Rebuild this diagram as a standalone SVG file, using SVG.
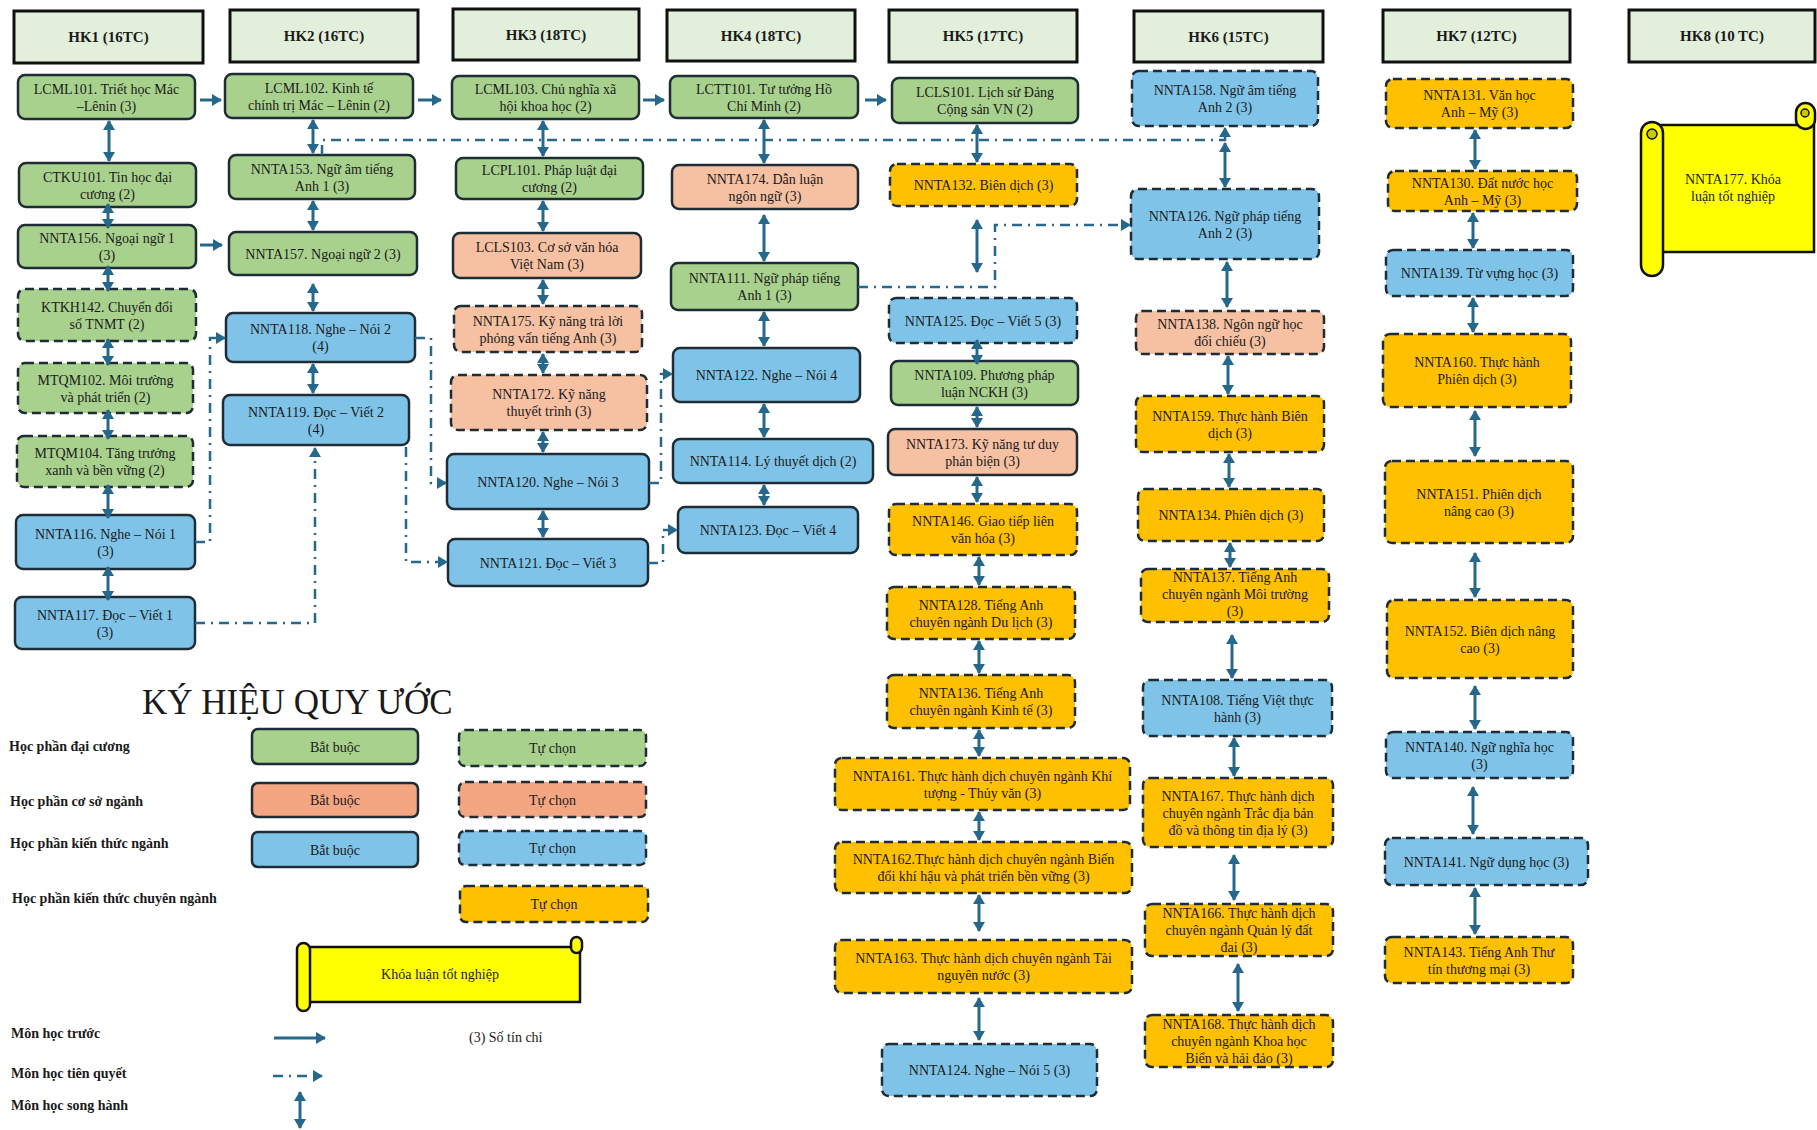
<svg xmlns="http://www.w3.org/2000/svg" width="1817" height="1130" viewBox="0 0 1817 1130">
<defs>
<style>
.n{stroke:#1d2c35;stroke-width:2.5}
.d{stroke-dasharray:9 5}
.hd{fill:#e2efda;stroke:#111;stroke-width:3}
.g{fill:#a9d18e}.s{fill:#f6c0a2}.sl{fill:#f4a582}.b{fill:#7fc4e8}.o{fill:#ffc000}
text{font-family:"Liberation Serif","Times New Roman",serif;fill:#1a1a1a}
.t{font-size:14px;text-anchor:middle}
.h{font-size:15px;font-weight:bold;text-anchor:middle}
.lg{font-size:14px;font-weight:bold}
.c{fill:none;stroke:#25688c;stroke-width:3}
.dd{stroke-width:2.5;stroke-dasharray:10 6 2 6}
.bi{marker-start:url(#ah);marker-end:url(#ah)}
.ar{marker-end:url(#ah)}
.ad{marker-end:url(#ad)}
.scr{fill:#ffff00;stroke:#111;stroke-width:2.5}
</style>
<marker id="ah" viewBox="0 0 10 12" refX="9" refY="6" markerWidth="10" markerHeight="12" markerUnits="userSpaceOnUse" orient="auto-start-reverse"><path d="M0,0L10,6L0,12z" fill="#25688c"/></marker>
<marker id="ad" viewBox="0 0 10 12" refX="9" refY="6" markerWidth="11" markerHeight="12" markerUnits="userSpaceOnUse" orient="auto"><path d="M0,0L10,6L0,12z" fill="#25688c"/></marker>
</defs>
<rect width="1817" height="1130" fill="#fff"/>

<!-- headers -->
<g id="HK1"><rect class="hd" x="14" y="11" width="189" height="52"/><text class="h" x="108.5" y="42">HK1 (16TC)</text></g>
<g id="HK2"><rect class="hd" x="230" y="10" width="188" height="52"/><text class="h" x="324" y="41">HK2 (16TC)</text></g>
<g id="HK3"><rect class="hd" x="453" y="9" width="186" height="51"/><text class="h" x="546" y="40">HK3 (18TC)</text></g>
<g id="HK4"><rect class="hd" x="667" y="10" width="188" height="51"/><text class="h" x="761" y="41">HK4 (18TC)</text></g>
<g id="HK5"><rect class="hd" x="889" y="10" width="188" height="52"/><text class="h" x="983" y="41">HK5 (17TC)</text></g>
<g id="HK6"><rect class="hd" x="1134" y="11" width="189" height="51"/><text class="h" x="1228.5" y="42">HK6 (15TC)</text></g>
<g id="HK7"><rect class="hd" x="1383" y="10" width="187" height="52"/><text class="h" x="1476.5" y="41">HK7 (12TC)</text></g>
<g id="HK8"><rect class="hd" x="1629" y="10" width="186" height="52"/><text class="h" x="1722" y="41">HK8 (10 TC)</text></g>

<!-- HK1 -->
<g id="LCML101"><rect class="n g" x="18" y="75" width="177" height="44" rx="7"/><text class="t" x="106.5" y="93.5">LCML101. Triết học Mác</text><text class="t" x="106.5" y="110.5">–Lênin (3)</text></g>
<g id="CTKU101"><rect class="n g" x="19" y="163" width="177" height="44" rx="7"/><text class="t" x="107.5" y="181.5">CTKU101. Tin học đại</text><text class="t" x="107.5" y="198.5">cương (2)</text></g>
<g id="NNTA156"><rect class="n g" x="18" y="225" width="178" height="43" rx="7"/><text class="t" x="107" y="243">NNTA156. Ngoại ngữ 1</text><text class="t" x="107" y="260">(3)</text></g>
<g id="KTKH142"><rect class="n d g" x="18" y="289" width="178" height="52" rx="7"/><text class="t" x="107" y="311.5">KTKH142. Chuyển đổi</text><text class="t" x="107" y="328.5">số TNMT (2)</text></g>
<g id="MTQM102"><rect class="n d g" x="18" y="363" width="175" height="50" rx="7"/><text class="t" x="105.5" y="384.5">MTQM102. Môi trường</text><text class="t" x="105.5" y="401.5">và phát triển (2)</text></g>
<g id="MTQM104"><rect class="n d g" x="17" y="436" width="176" height="51" rx="7"/><text class="t" x="105" y="458">MTQM104. Tăng trưởng</text><text class="t" x="105" y="475">xanh và bền vững (2)</text></g>
<g id="NNTA116"><rect class="n b" x="16" y="515" width="179" height="54" rx="7"/><text class="t" x="105.5" y="538.5">NNTA116. Nghe – Nói 1</text><text class="t" x="105.5" y="555.5">(3)</text></g>
<g id="NNTA117"><rect class="n b" x="15" y="597" width="180" height="52" rx="7"/><text class="t" x="105" y="619.5">NNTA117. Đọc – Viết 1</text><text class="t" x="105" y="636.5">(3)</text></g>

<!-- HK2 -->
<g id="LCML102"><rect class="n g" x="225" y="74" width="188" height="44" rx="7"/><text class="t" x="319" y="92.5">LCML102. Kinh tế</text><text class="t" x="319" y="109.5">chính trị Mác – Lênin (2)</text></g>
<g id="NNTA153"><rect class="n g" x="229" y="155" width="186" height="44" rx="7"/><text class="t" x="322" y="173.5">NNTA153. Ngữ âm tiếng</text><text class="t" x="322" y="190.5">Anh 1 (3)</text></g>
<g id="NNTA157"><rect class="n g" x="229" y="232" width="188" height="43" rx="7"/><text class="t" x="323" y="258.5">NNTA157. Ngoại ngữ 2 (3)</text></g>
<g id="NNTA118"><rect class="n b" x="226" y="313" width="189" height="49" rx="7"/><text class="t" x="320.5" y="334">NNTA118. Nghe – Nói 2</text><text class="t" x="320.5" y="351">(4)</text></g>
<g id="NNTA119"><rect class="n b" x="223" y="395" width="186" height="50" rx="7"/><text class="t" x="316" y="416.5">NNTA119. Đọc – Viết 2</text><text class="t" x="316" y="433.5">(4)</text></g>

<!-- HK3 -->
<g id="LCML103"><rect class="n g" x="452" y="76" width="187" height="43" rx="7"/><text class="t" x="545.5" y="94">LCML103. Chủ nghĩa xã</text><text class="t" x="545.5" y="111">hội khoa học (2)</text></g>
<g id="LCPL101"><rect class="n g" x="456" y="158" width="187" height="41" rx="7"/><text class="t" x="549.5" y="175">LCPL101. Pháp luật đại</text><text class="t" x="549.5" y="192">cương (2)</text></g>
<g id="LCLS103"><rect class="n s" x="453" y="233" width="188" height="45" rx="7"/><text class="t" x="547" y="252">LCLS103. Cơ sở văn hóa</text><text class="t" x="547" y="269">Việt Nam (3)</text></g>
<g id="NNTA175"><rect class="n d s" x="454" y="306" width="188" height="46" rx="7"/><text class="t" x="548" y="325.5">NNTA175. Kỹ năng trả lời</text><text class="t" x="548" y="342.5">phỏng vấn tiếng Anh (3)</text></g>
<g id="NNTA172"><rect class="n d s" x="451" y="375" width="196" height="55" rx="7"/><text class="t" x="549" y="399">NNTA172. Kỹ năng</text><text class="t" x="549" y="416">thuyết trình (3)</text></g>
<g id="NNTA120"><rect class="n b" x="447" y="454" width="202" height="55" rx="7"/><text class="t" x="548" y="486.5">NNTA120. Nghe – Nói 3</text></g>
<g id="NNTA121"><rect class="n b" x="448" y="539" width="200" height="47" rx="7"/><text class="t" x="548" y="567.5">NNTA121. Đọc – Viết 3</text></g>

<!-- HK4 -->
<g id="LCTT101"><rect class="n g" x="670" y="76" width="188" height="42" rx="7"/><text class="t" x="764" y="93.5">LCTT101. Tư tưởng Hồ</text><text class="t" x="764" y="110.5">Chí Minh (2)</text></g>
<g id="NNTA174"><rect class="n s" x="672" y="165" width="186" height="44" rx="7"/><text class="t" x="765" y="183.5">NNTA174. Dẫn luận</text><text class="t" x="765" y="200.5">ngôn ngữ (3)</text></g>
<g id="NNTA111"><rect class="n g" x="671" y="263" width="187" height="47" rx="7"/><text class="t" x="764.5" y="283">NNTA111. Ngữ pháp tiếng</text><text class="t" x="764.5" y="300">Anh 1 (3)</text></g>
<g id="NNTA122"><rect class="n b" x="673" y="348" width="187" height="54" rx="7"/><text class="t" x="766.5" y="380">NNTA122. Nghe – Nói 4</text></g>
<g id="NNTA114"><rect class="n b" x="673" y="439" width="200" height="44" rx="7"/><text class="t" x="773" y="466">NNTA114. Lý thuyết dịch (2)</text></g>
<g id="NNTA123"><rect class="n b" x="678" y="507" width="180" height="46" rx="7"/><text class="t" x="768" y="535">NNTA123. Đọc – Viết 4</text></g>

<!-- HK5 -->
<g id="LCLS101"><rect class="n g" x="892" y="78" width="186" height="45" rx="7"/><text class="t" x="985" y="97">LCLS101. Lịch sử Đảng</text><text class="t" x="985" y="114">Cộng sản VN (2)</text></g>
<g id="NNTA132"><rect class="n d o" x="890" y="164" width="187" height="42" rx="7"/><text class="t" x="983.5" y="190">NNTA132. Biên dịch (3)</text></g>
<g id="NNTA125"><rect class="n d b" x="889" y="298" width="188" height="45" rx="7"/><text class="t" x="983" y="325.5">NNTA125. Đọc – Viết 5 (3)</text></g>
<g id="NNTA109"><rect class="n g" x="891" y="361" width="187" height="44" rx="7"/><text class="t" x="984.5" y="379.5">NNTA109. Phương pháp</text><text class="t" x="984.5" y="396.5">luận NCKH (3)</text></g>
<g id="NNTA173"><rect class="n s" x="888" y="429" width="189" height="46" rx="7"/><text class="t" x="982.5" y="448.5">NNTA173. Kỹ năng tư duy</text><text class="t" x="982.5" y="465.5">phản biện (3)</text></g>
<g id="NNTA146"><rect class="n d o" x="889" y="504" width="188" height="51" rx="7"/><text class="t" x="983" y="526">NNTA146. Giao tiếp liên</text><text class="t" x="983" y="543">văn hóa (3)</text></g>
<g id="NNTA128"><rect class="n d o" x="887" y="587" width="188" height="52" rx="7"/><text class="t" x="981" y="609.5">NNTA128. Tiếng Anh</text><text class="t" x="981" y="626.5">chuyên ngành Du lịch (3)</text></g>
<g id="NNTA136"><rect class="n d o" x="887" y="675" width="188" height="53" rx="7"/><text class="t" x="981" y="698">NNTA136. Tiếng Anh</text><text class="t" x="981" y="715">chuyên ngành Kinh tế (3)</text></g>
<g id="NNTA161"><rect class="n d o" x="835" y="758" width="295" height="52" rx="7"/><text class="t" x="982.5" y="780.5">NNTA161. Thực hành dịch chuyên ngành Khí</text><text class="t" x="982.5" y="797.5">tượng - Thủy văn (3)</text></g>
<g id="NNTA162"><rect class="n d o" x="835" y="842" width="297" height="51" rx="7"/><text class="t" x="983.5" y="864">NNTA162.Thực hành dịch chuyên ngành Biến</text><text class="t" x="983.5" y="881">đổi khí hậu và phát triển bền vững (3)</text></g>
<g id="NNTA163"><rect class="n d o" x="835" y="940" width="297" height="53" rx="7"/><text class="t" x="983.5" y="963">NNTA163. Thực hành dịch chuyên ngành Tài</text><text class="t" x="983.5" y="980">nguyên nước (3)</text></g>
<g id="NNTA124"><rect class="n d b" x="882" y="1044" width="215" height="52" rx="7"/><text class="t" x="989.5" y="1075">NNTA124. Nghe – Nói 5 (3)</text></g>

<!-- HK6 -->
<g id="NNTA158"><rect class="n d b" x="1132" y="71" width="186" height="55" rx="7"/><text class="t" x="1225" y="95">NNTA158. Ngữ âm tiếng</text><text class="t" x="1225" y="112">Anh 2 (3)</text></g>
<g id="NNTA126"><rect class="n d b" x="1131" y="189" width="188" height="70" rx="7"/><text class="t" x="1225" y="220.5">NNTA126. Ngữ pháp tiếng</text><text class="t" x="1225" y="237.5">Anh 2 (3)</text></g>
<g id="NNTA138"><rect class="n d s" x="1136" y="311" width="188" height="43" rx="7"/><text class="t" x="1230" y="329">NNTA138. Ngôn ngữ học</text><text class="t" x="1230" y="346">đối chiếu (3)</text></g>
<g id="NNTA159"><rect class="n d o" x="1136" y="396" width="188" height="56" rx="7"/><text class="t" x="1230" y="420.5">NNTA159. Thực hành Biên</text><text class="t" x="1230" y="437.5">dịch (3)</text></g>
<g id="NNTA134"><rect class="n d o" x="1138" y="489" width="186" height="52" rx="7"/><text class="t" x="1231" y="520">NNTA134. Phiên dịch (3)</text></g>
<g id="NNTA137"><rect class="n d o" x="1141" y="569" width="188" height="53" rx="7"/><text class="t" x="1235" y="582">NNTA137. Tiếng Anh</text><text class="t" x="1235" y="599">chuyên ngành Môi trường</text><text class="t" x="1235" y="616">(3)</text></g>
<g id="NNTA108"><rect class="n d b" x="1143" y="680" width="189" height="56" rx="7"/><text class="t" x="1237.5" y="704.5">NNTA108. Tiếng Việt thực</text><text class="t" x="1237.5" y="721.5">hành (3)</text></g>
<g id="NNTA167"><rect class="n d o" x="1143" y="778" width="190" height="69" rx="7"/><text class="t" x="1238" y="800.5">NNTA167. Thực hành dịch</text><text class="t" x="1238" y="817.5">chuyên ngành Trắc địa bản</text><text class="t" x="1238" y="834.5">đồ và thông tin địa lý (3)</text></g>
<g id="NNTA166"><rect class="n d o" x="1145" y="904" width="188" height="52" rx="7"/><text class="t" x="1239" y="918">NNTA166. Thực hành dịch</text><text class="t" x="1239" y="935">chuyên ngành Quản lý đất</text><text class="t" x="1239" y="952">đai (3)</text></g>
<g id="NNTA168"><rect class="n d o" x="1145" y="1015" width="188" height="52" rx="7"/><text class="t" x="1239" y="1029">NNTA168. Thực hành dịch</text><text class="t" x="1239" y="1046">chuyên ngành Khoa học</text><text class="t" x="1239" y="1063">Biển và hải đảo (3)</text></g>

<!-- HK7 -->
<g id="NNTA131"><rect class="n d o" x="1386" y="79" width="187" height="49" rx="7"/><text class="t" x="1479.5" y="100">NNTA131. Văn học</text><text class="t" x="1479.5" y="117">Anh – Mỹ (3)</text></g>
<g id="NNTA130"><rect class="n d o" x="1388" y="171" width="189" height="40" rx="7"/><text class="t" x="1482.5" y="187.5">NNTA130. Đất nước học</text><text class="t" x="1482.5" y="204.5">Anh – Mỹ (3)</text></g>
<g id="NNTA139"><rect class="n d b" x="1386" y="250" width="187" height="46" rx="7"/><text class="t" x="1479.5" y="278">NNTA139. Từ vựng học (3)</text></g>
<g id="NNTA160"><rect class="n d o" x="1383" y="334" width="188" height="73" rx="7"/><text class="t" x="1477" y="367">NNTA160. Thực hành</text><text class="t" x="1477" y="384">Phiên dịch (3)</text></g>
<g id="NNTA151"><rect class="n d o" x="1385" y="461" width="188" height="82" rx="7"/><text class="t" x="1479" y="498.5">NNTA151. Phiên dịch</text><text class="t" x="1479" y="515.5">nâng cao (3)</text></g>
<g id="NNTA152"><rect class="n d o" x="1387" y="600" width="186" height="78" rx="7"/><text class="t" x="1480" y="635.5">NNTA152. Biên dịch nâng</text><text class="t" x="1480" y="652.5">cao (3)</text></g>
<g id="NNTA140"><rect class="n d b" x="1386" y="732" width="187" height="46" rx="7"/><text class="t" x="1479.5" y="751.5">NNTA140. Ngữ nghĩa học</text><text class="t" x="1479.5" y="768.5">(3)</text></g>
<g id="NNTA141"><rect class="n d b" x="1385" y="838" width="203" height="47" rx="7"/><text class="t" x="1486.5" y="866.5">NNTA141. Ngữ dụng học (3)</text></g>
<g id="NNTA143"><rect class="n d o" x="1385" y="937" width="188" height="46" rx="7"/><text class="t" x="1479" y="956.5">NNTA143. Tiếng Anh Thư</text><text class="t" x="1479" y="973.5">tín thương mại (3)</text></g>

<!-- HK8 -->
<g id="NNTA177">
<rect class="scr" x="1650" y="125" width="164" height="127"/>
<rect class="scr" x="1796" y="103" width="19" height="26" rx="9.5"/>
<circle cx="1805" cy="113" r="4" fill="#c9c900" stroke="#111" stroke-width="1.5"/>
<rect class="scr" x="1641" y="122" width="22" height="154" rx="11"/>
<circle cx="1652" cy="134" r="5" fill="#c9c900" stroke="#111" stroke-width="1.5"/>
<text class="t" x="1733" y="184">NNTA177. Khóa</text><text class="t" x="1733" y="201">luận tốt nghiệp</text>
</g>

<!-- connectors -->
<g id="connectors">
<path class="c ar" d="M200,100H221"/>
<path class="c ar" d="M418,100H441"/>
<path class="c ar" d="M643,100H664"/>
<path class="c ar" d="M865,100H886"/>
<path class="c ar" d="M200,245H222"/>
<path class="c bi" d="M109,121V161"/>
<path class="c bi" d="M108,204V228"/>
<path class="c bi" d="M108,266V291"/>
<path class="c bi" d="M108,339V365"/>
<path class="c bi" d="M108,410V439"/>
<path class="c bi" d="M108,485V518"/>
<path class="c bi" d="M108,567V600"/>
<path class="c bi" d="M313,120V153"/>
<path class="c bi" d="M313,201V230"/>
<path class="c bi" d="M313,284V311"/>
<path class="c bi" d="M313,364V393"/>
<path class="c bi" d="M543,121V156"/>
<path class="c bi" d="M543,201V231"/>
<path class="c bi" d="M543,280V304"/>
<path class="c bi" d="M543,354V373"/>
<path class="c bi" d="M543,432V452"/>
<path class="c bi" d="M543,511V537"/>
<path class="c bi" d="M764,120V163"/>
<path class="c bi" d="M764,215V261"/>
<path class="c bi" d="M764,312V346"/>
<path class="c bi" d="M764,404V437"/>
<path class="c bi" d="M764,485V505"/>
<path class="c bi" d="M977,125V162"/>
<path class="c bi" d="M977,220V272"/>
<path class="c bi" d="M977,340V364"/>
<path class="c bi" d="M977,407V427"/>
<path class="c bi" d="M977,477V502"/>
<path class="c bi" d="M979,557V585"/>
<path class="c bi" d="M979,641V673"/>
<path class="c bi" d="M979,730V756"/>
<path class="c bi" d="M979,812V840"/>
<path class="c bi" d="M979,895V931"/>
<path class="c bi" d="M979,998V1040"/>
<path class="c bi" d="M1225,143V187"/>
<path class="c bi" d="M1227,262V307"/>
<path class="c bi" d="M1228,356V394"/>
<path class="c bi" d="M1229,454V487"/>
<path class="c bi" d="M1230,543V567"/>
<path class="c bi" d="M1232,635V678"/>
<path class="c bi" d="M1234,738V776"/>
<path class="c bi" d="M1234,855V900"/>
<path class="c bi" d="M1238,964V1011"/>
<path class="c bi" d="M1475,130V169"/>
<path class="c bi" d="M1473,213V248"/>
<path class="c bi" d="M1473,298V332"/>
<path class="c bi" d="M1475,411V456"/>
<path class="c bi" d="M1475,553V597"/>
<path class="c bi" d="M1475,686V729"/>
<path class="c bi" d="M1473,787V834"/>
<path class="c bi" d="M1475,888V934"/>
<path class="c dd ad" d="M322,155V140H1225V128"/>
<path class="c dd ad" d="M195,542H210V338H225"/>
<path class="c dd ad" d="M195,623H315V448"/>
<path class="c dd ad" d="M415,338H431V483H446"/>
<path class="c dd ad" d="M406,447V562H447"/>
<path class="c dd ad" d="M649,483H661V374H672"/>
<path class="c dd ad" d="M648,563H663V530H677"/>
<path class="c dd ad" d="M858,287H995V225H1130"/>
</g>

<!-- legend -->
<g id="legend">
<text x="142" y="714" font-size="35">KÝ HIỆU QUY ƯỚC</text>
<text class="lg" x="9" y="751">Học phần đại cương</text>
<text class="lg" x="10" y="806">Học phần cơ sở ngành</text>
<text class="lg" x="10" y="848">Học phần kiến thức ngành</text>
<text class="lg" x="12" y="903">Học phần kiến thức chuyên ngành</text>
<g id="lg-g-bb"><rect class="n g" x="252" y="729" width="166" height="35" rx="6"/><text class="t" x="335" y="751.5">Bắt buộc</text></g>
<g id="lg-g-tc"><rect class="n d g" x="459" y="730" width="187" height="36" rx="6"/><text class="t" x="552.5" y="753">Tự chọn</text></g>
<g id="lg-s-bb"><rect class="n sl" x="252" y="783" width="166" height="34" rx="6"/><text class="t" x="335" y="805">Bắt buộc</text></g>
<g id="lg-s-tc"><rect class="n d sl" x="459" y="782" width="187" height="35" rx="6"/><text class="t" x="552.5" y="804.5">Tự chọn</text></g>
<g id="lg-b-bb"><rect class="n b" x="252" y="832" width="166" height="35" rx="6"/><text class="t" x="335" y="854.5">Bắt buộc</text></g>
<g id="lg-b-tc"><rect class="n d b" x="459" y="831" width="187" height="34" rx="6"/><text class="t" x="552.5" y="853">Tự chọn</text></g>
<g id="lg-o-tc"><rect class="n d o" x="460" y="886" width="188" height="36" rx="6"/><text class="t" x="554" y="909">Tự chọn</text></g>
<g id="lg-scroll">
<rect class="scr" x="305" y="947" width="275" height="55"/>
<rect class="scr" x="571" y="937" width="11" height="16" rx="5.5"/>
<rect class="scr" x="297" y="943" width="13" height="68" rx="6.5"/>
<text class="t" x="440" y="979">Khóa luận tốt nghiệp</text>
</g>
<text class="lg" x="11" y="1038">Môn học trước</text>
<text class="lg" x="11" y="1078">Môn học tiên quyết</text>
<text class="lg" x="11" y="1110">Môn học song hành</text>
<text x="469" y="1042" font-size="14">(3) Số tín chỉ</text>
<path class="c ar" d="M274,1038H325"/>
<path class="c dd ad" d="M273,1076H322"/>
<path class="c bi" d="M300,1092V1128"/>
</g>
</svg>
